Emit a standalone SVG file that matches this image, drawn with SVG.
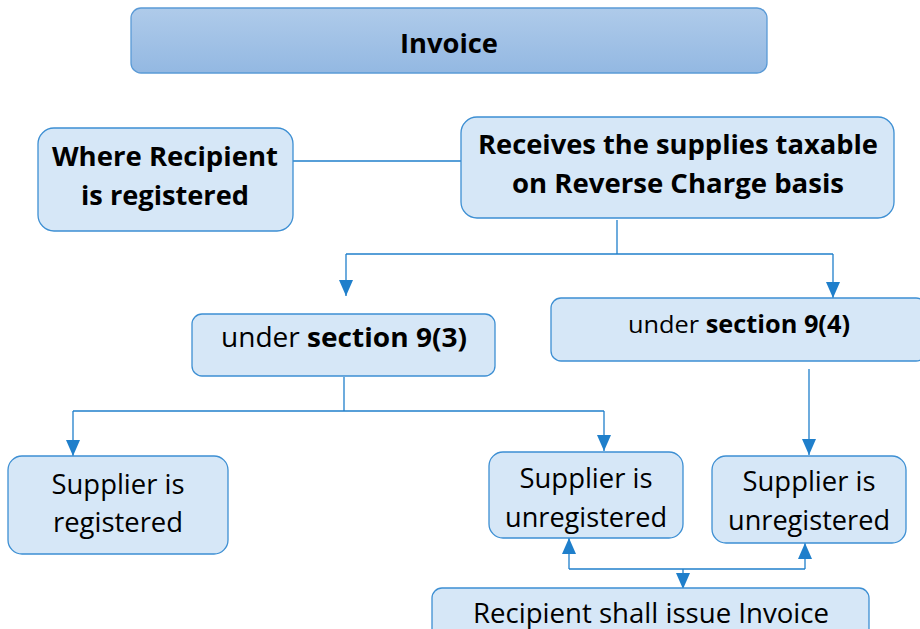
<svg xmlns="http://www.w3.org/2000/svg" width="920" height="629" viewBox="0 0 920 629">
  <defs>
    <linearGradient id="hdr" x1="0" y1="0" x2="0" y2="1">
      <stop offset="0" stop-color="#afcbea"/>
      <stop offset="1" stop-color="#93b8e2"/>
    </linearGradient>
    <marker id="arrL" viewBox="0 0 16 14" refX="16" refY="7" markerWidth="16" markerHeight="14" markerUnits="userSpaceOnUse" orient="auto">
      <path d="M0,0 L16,7 L0,14 z" fill="#1f7fcb"/>
    </marker>
  </defs>
  <style>
    .box { fill: #d6e7f7; stroke: #3d8fd3; stroke-width: 1.3; }
    .t { font-family: "Open Sans", "Noto Sans", sans-serif; fill: #000; text-anchor: middle; }
    .b { font-weight: bold; }
    .c { fill: none; stroke: #1f7fcb; stroke-width: 1.3; }
  </style>

  <!-- connectors -->
  <g id="connectors">
    <path class="c" d="M293,161 H461"/>
    <path class="c" d="M617,220 V254"/>
    <path class="c" d="M346,254 H833"/>
    <path class="c" d="M346,254 V296" marker-end="url(#arrL)"/>
    <path class="c" d="M833,254 V298" marker-end="url(#arrL)"/>
    <path class="c" d="M344,377 V411"/>
    <path class="c" d="M73,411 H604"/>
    <path class="c" d="M73,411 V456" marker-end="url(#arrL)"/>
    <path class="c" d="M604,411 V451" marker-end="url(#arrL)"/>
    <path class="c" d="M809,369 V455" marker-end="url(#arrL)"/>
    <path class="c" d="M569,569 H805"/>
    <path class="c" d="M569,569 V538" marker-end="url(#arrL)"/>
    <path class="c" d="M805,569 V543" marker-end="url(#arrL)"/>
    <path class="c" d="M683,569 V589" marker-end="url(#arrL)"/>
  </g>

  <g id="invoice">
    <rect x="131" y="8" width="636" height="65" rx="10" fill="url(#hdr)" stroke="#5a9ad6" stroke-width="1.3"/>
    <text class="t b" x="449" y="53" font-size="27" textLength="98" lengthAdjust="spacingAndGlyphs">Invoice</text>
  </g>

  <g id="recipient-registered">
    <rect class="box" x="38" y="128" width="255" height="103" rx="16"/>
    <text class="t b" x="165" y="166" font-size="27" textLength="226" lengthAdjust="spacingAndGlyphs">Where Recipient</text>
    <text class="t b" x="165" y="205" font-size="27" textLength="168" lengthAdjust="spacingAndGlyphs">is registered</text>
  </g>

  <g id="reverse-charge">
    <rect class="box" x="461" y="117" width="433" height="101" rx="16"/>
    <text class="t b" x="678" y="154" font-size="27" textLength="400" lengthAdjust="spacingAndGlyphs">Receives the supplies taxable</text>
    <text class="t b" x="678" y="193" font-size="27" textLength="332" lengthAdjust="spacingAndGlyphs">on Reverse Charge basis</text>
  </g>

  <g id="section-9-3">
    <rect class="box" x="192" y="314" width="303" height="62" rx="10"/>
    <text class="t" x="344" y="347" font-size="27" textLength="246" lengthAdjust="spacingAndGlyphs">under <tspan class="b">section 9(3)</tspan></text>
  </g>

  <g id="section-9-4">
    <rect class="box" x="551" y="298" width="375" height="63" rx="10"/>
    <text class="t" x="739" y="333" font-size="24.5" textLength="222" lengthAdjust="spacingAndGlyphs">under <tspan class="b">section 9(4)</tspan></text>
  </g>

  <g id="supplier-registered">
    <rect class="box" x="8" y="456" width="220" height="98" rx="14"/>
    <text class="t" x="118" y="494" font-size="27" textLength="133" lengthAdjust="spacingAndGlyphs">Supplier is</text>
    <text class="t" x="118" y="532" font-size="27" textLength="130" lengthAdjust="spacingAndGlyphs">registered</text>
  </g>

  <g id="supplier-unregistered-93">
    <rect class="box" x="489" y="452" width="194" height="86" rx="14"/>
    <text class="t" x="586" y="488" font-size="27" textLength="133" lengthAdjust="spacingAndGlyphs">Supplier is</text>
    <text class="t" x="586" y="527" font-size="27" textLength="162" lengthAdjust="spacingAndGlyphs">unregistered</text>
  </g>

  <g id="supplier-unregistered-94">
    <rect class="box" x="712" y="456" width="194" height="87" rx="14"/>
    <text class="t" x="809" y="491" font-size="27" textLength="133" lengthAdjust="spacingAndGlyphs">Supplier is</text>
    <text class="t" x="809" y="530" font-size="27" textLength="162" lengthAdjust="spacingAndGlyphs">unregistered</text>
  </g>

  <g id="recipient-invoice">
    <rect class="box" x="432" y="588" width="437" height="60" rx="10"/>
    <text class="t" x="651" y="623" font-size="27" textLength="356" lengthAdjust="spacingAndGlyphs">Recipient shall issue Invoice</text>
  </g>
</svg>
